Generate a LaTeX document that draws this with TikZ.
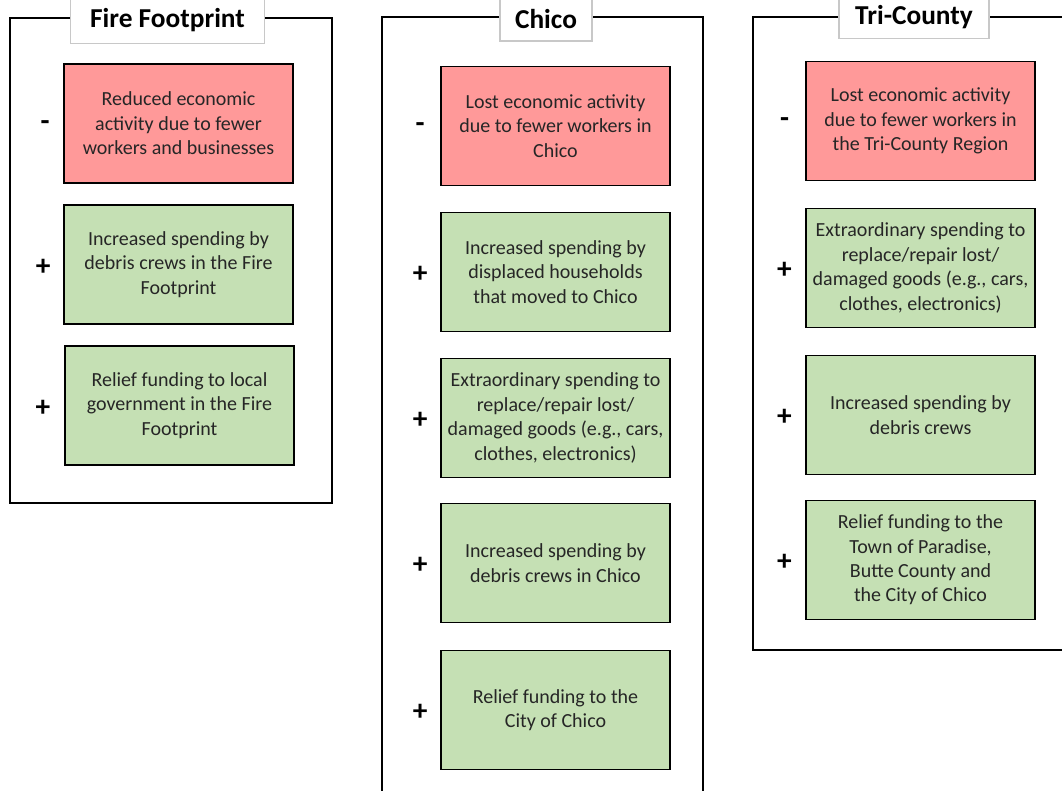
\documentclass[tikz,border=0pt]{standalone}
\usepackage{fontspec}
\setmainfont{Carlito}
\usetikzlibrary{positioning}
\definecolor{lossred}{HTML}{FF9999}
\definecolor{gaingreen}{HTML}{C5E0B4}
\definecolor{titleline}{HTML}{C8C8C8}

\tikzset{
  frame/.style = {draw, line width=1.5pt},
  heading/.style = {draw=titleline, fill=white, line width=0.8pt, font=\fontsize{20.5}{24}\selectfont\bfseries},
  item/.style = {draw, line width=1.2pt, minimum width=171.75pt, minimum height=89.25pt, align=center,
                 text=black!85, font=\fontsize{15}{18.3}\selectfont},
  loss/.style = {item, fill=lossred},
  gain/.style = {item, fill=gaingreen},
  sign/.style = {anchor=base, font=\fontsize{22}{24}\selectfont\bfseries}
}

\begin{document}
\begin{tikzpicture}[x=0.75pt, y=-0.75pt]
\useasboundingbox (0,0) rectangle (1062,791);
\clip (0,0) rectangle (1062,791);

\draw[frame] (10,18) rectangle (332,503);
\draw[frame] (382,17) rectangle (703,820);
\draw[frame] (753,17) rectangle (1090,650);

\node[heading, minimum width=146pt, minimum height=35pt] (hf) at (167.5,20) {Fire Footprint};
\node[heading, minimum width=69pt, minimum height=33pt] (hc) at (546,19) {Chico};
\node[heading, minimum width=112.5pt, minimum height=32pt] (ht) at (914,17) {Tri-County};

\node[loss] (f1) at (178.5,123.5) {Reduced economic\\activity due to fewer\\workers and businesses};
\node[gain] (f2) at (178.5,264.5) {Increased spending by\\debris crews in the Fire\\Footprint};
\node[gain] (f3) at (179.5,405.5) {Relief funding to local\\government in the Fire\\Footprint};

\node[loss] (c1) at (555.5,126) {Lost economic activity\\due to fewer workers in\\Chico};
\node[gain] (c2) at (555.5,272) {Increased spending by\\displaced households\\that moved to Chico};
\node[gain] (c3) at (555.5,418) {Extraordinary spending to\\replace/repair lost/\\damaged goods (e.g., cars,\\clothes, electronics)};
\node[gain] (c4) at (555.5,563) {Increased spending by\\debris crews in Chico};
\node[gain] (c5) at (555.5,710) {Relief funding to the\\City of Chico};

\node[loss] (t1) at (920.5,121) {Lost economic activity\\due to fewer workers in\\the Tri-County Region};
\node[gain] (t2) at (920.5,268) {Extraordinary spending to\\replace/repair lost/\\damaged goods (e.g., cars,\\clothes, electronics)};
\node[gain] (t3) at (920.5,415) {Increased spending by\\debris crews};
\node[gain] (t4) at (920.5,560) {Relief funding to the\\Town of Paradise,\\Butte County and\\the City of Chico};

\node[sign] (sf1) at ([xshift=-13.5pt, yshift=-5pt]f1.west) {-};
\node[sign] (sf2) at ([xshift=-15pt, yshift=-8pt]f2.west) {+};
\node[sign] (sf3) at ([xshift=-16pt, yshift=-8pt]f3.west) {+};

\node[sign] (sc1) at ([xshift=-15pt, yshift=-5pt]c1.west) {-};
\node[sign] (sc2) at ([xshift=-15pt, yshift=-8pt]c2.west) {+};
\node[sign] (sc3) at ([xshift=-15pt, yshift=-8pt]c3.west) {+};
\node[sign] (sc4) at ([xshift=-15pt, yshift=-8pt]c4.west) {+};
\node[sign] (sc5) at ([xshift=-15pt, yshift=-8pt]c5.west) {+};

\node[sign] (st1) at ([xshift=-15.5pt, yshift=-5pt]t1.west) {-};
\node[sign] (st2) at ([xshift=-15.5pt, yshift=-8pt]t2.west) {+};
\node[sign] (st3) at ([xshift=-15.5pt, yshift=-8pt]t3.west) {+};
\node[sign] (st4) at ([xshift=-15.5pt, yshift=-8pt]t4.west) {+};
\end{tikzpicture}
\end{document}
